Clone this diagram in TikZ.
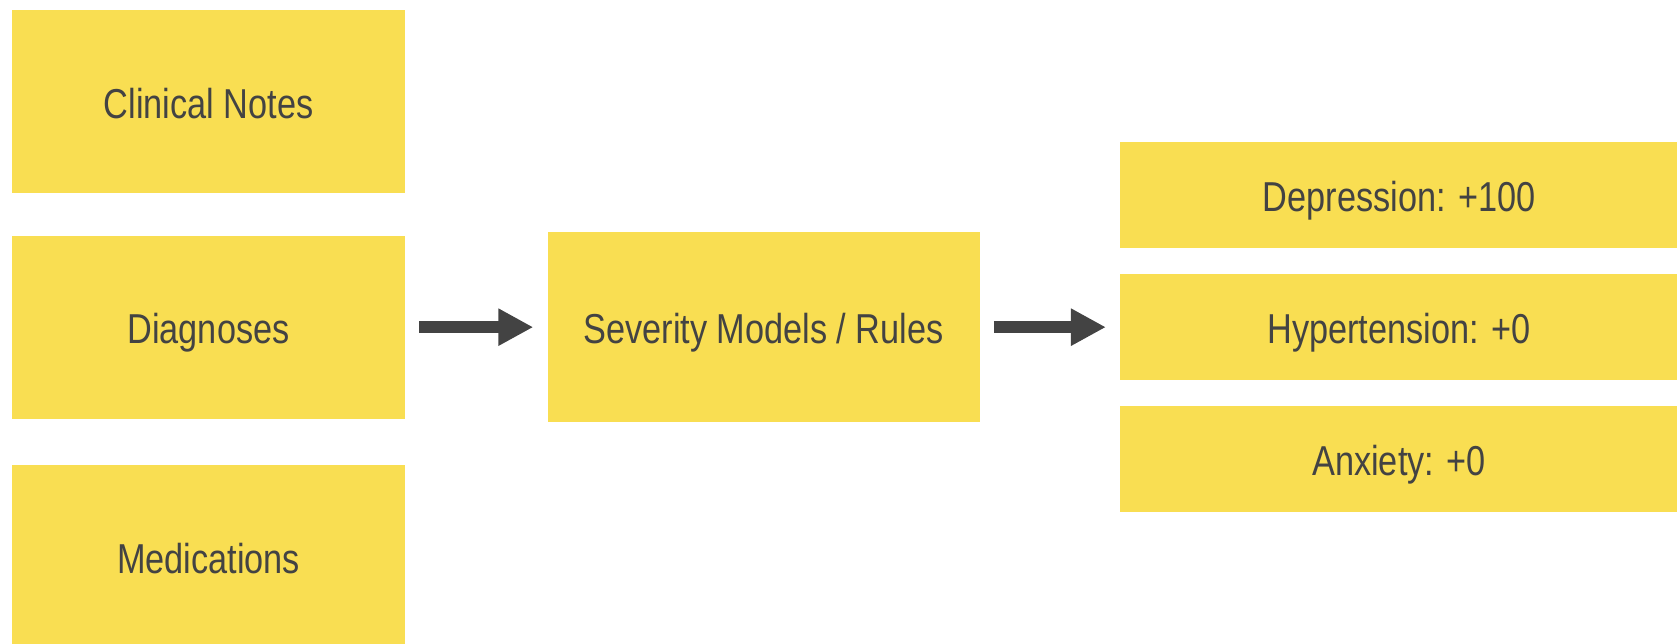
\documentclass[tikz,border=0pt]{standalone}
\usepackage{fontspec}
\setmainfont[FakeStretch=0.82]{Liberation Sans}
\usepackage{tikz}
\usetikzlibrary{shapes,arrows.meta,positioning}
\definecolor{boxyellow}{HTML}{F9DE52}
\definecolor{darkgray}{HTML}{434343}

\begin{document}
\begin{tikzpicture}[x=0.02cm, y=-0.02cm,
    box/.style={rectangle, fill=boxyellow, text=darkgray, inner sep=0pt,
      text height=0.76cm, text depth=0.1cm,
      font=\fontsize{23.8pt}{28pt}\selectfont},
    inbox/.style={box, minimum width=7.86cm, minimum height=3.66cm},
    outbox/.style={box, minimum width=11.16cm, minimum height=2.12cm, anchor=west},
    bigarrow/.style={draw=darkgray, line width=0.24cm,
      -{Triangle[length=0.7cm, width=0.7cm]}, shorten <=0.28cm, shorten >=0.28cm}]
  \useasboundingbox (0,0) rectangle (1677,643);
  \node[inbox] (notes) at (208.5,101.5) {Clinical Notes};
  \node[inbox, below=0.84cm of notes] (diag) {Diagnoses};
  \node[inbox, below=0.92cm of diag] (meds) {Medications};
  \node[box, minimum width=8.64cm, minimum height=3.8cm, right=2.84cm of diag] (sev) {Severity Models / Rules};
  \node[outbox, right=2.8cm of sev] (hyper) {Hypertension: +0};
  \node[outbox, above=0.5cm of hyper.north west, anchor=south west] (dep) {Depression: +100};
  \node[outbox, below=0.5cm of hyper.south west, anchor=north west] (anx) {Anxiety: +0};
  \draw[bigarrow] (diag) -- (sev);
  \draw[bigarrow] (sev) -- (hyper);
\end{tikzpicture}
\end{document}
